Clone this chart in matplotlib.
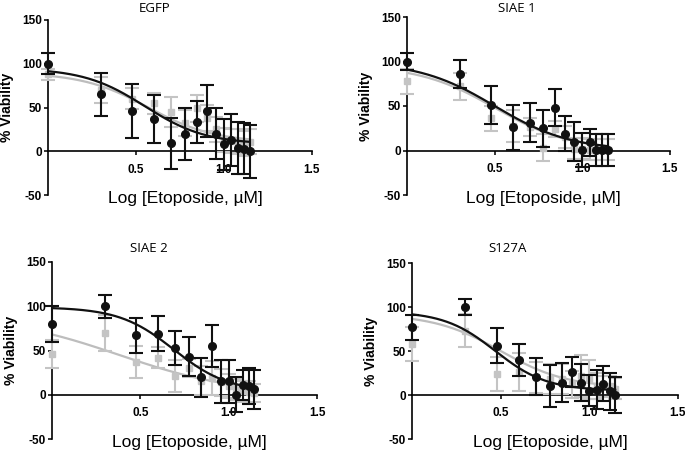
import matplotlib
matplotlib.use("Agg")
import matplotlib.pyplot as plt
import numpy as np

plt.rcParams["font.family"] = ["Liberation Sans", "DejaVu Sans"]

# log10 of etoposide concentration (1..14 uM)
log_conc = [0.0, 0.301, 0.477, 0.602, 0.699, 0.778, 0.845, 0.903, 0.954, 1.0, 1.041, 1.079, 1.114, 1.146]

titles = ["EGFP", "SIAE 1", "SIAE 2", "S127A"]
x_ticks = [0.5, 1.0, 1.5]
x_tick_labels = ["0.5", "1.0", "1.5"]
y_ticks = [-50, 0, 50, 100, 150]
y_tick_labels = ["-50", "0", "50", "100", "150"]

# black series (mean, sd)
egfp_black = [100, 65, 46, 37, 9, 20, 34, 46, 20, 8, 13, 4, 3, 0]
egfp_black_err = [12, 25, 31, 27, 29, 30, 24, 30, 29, 29, 30, 30, 29, 30]
egfp_grey = [88, 70, 60, 55, 45, 32, 49, 38, 25, 13, 12, 11, 9, 11]
egfp_grey_err = [6, 15, 12, 12, 17, 15, 15, 15, 14, 14, 14, 14, 14, 14]

siae1_black = [100, 86, 51, 26, 31, 25, 48, 19, 10, 1, 9, 1, 1, 1]
siae1_black_err = [9, 16, 21, 25, 22, 21, 21, 20, 22, 19, 15, 18, 18, 18]
siae1_grey = [78, 72, 36, 28, 26, 3, 24, 15, 2, 2, 1, 1, 1, 1]
siae1_grey_err = [14, 15, 14, 18, 10, 15, 9, 12, 12, 12, 12, 12, 12, 12]

siae2_black = [80, 100, 67, 69, 53, 43, 20, 55, 15, 15, 0, 11, 10, 6]
siae2_black_err = [20, 13, 20, 20, 19, 22, 22, 24, 24, 24, 20, 17, 20, 22]
siae2_grey = [46, 70, 37, 42, 21, 30, 16, 19, 14, 10, 6, 4, 3, 2]
siae2_grey_err = [16, 20, 18, 12, 18, 10, 16, 19, 15, 14, 12, 12, 12, 10]

s127a_black = [77, 100, 56, 40, 21, 10, 14, 26, 14, 5, 6, 13, 4, 0]
s127a_black_err = [14, 9, 20, 18, 21, 24, 22, 17, 21, 18, 22, 20, 21, 20]
s127a_grey = [58, 73, 24, 26, 20, 18, 18, 12, 22, 18, 10, 10, 10, 7]
s127a_grey_err = [19, 19, 19, 22, 18, 17, 17, 15, 24, 22, 15, 12, 12, 12]

# fitted dose-response parameters: top, bottom, logIC50, hill slope
egfp_black_fit = [95, 8, 0.55, 2.5]
egfp_grey_fit = [90, 10, 0.57, 2.3]
siae1_black_fit = [100, 0, 0.50, 2.0]
siae1_grey_fit = [96, 0, 0.50, 2.0]
siae2_black_fit = [99, 3, 0.69, 2.8]
siae2_grey_fit = [90, 0, 0.38, 1.3]
s127a_black_fit = [95, 5, 0.47, 3.0]
s127a_grey_fit = [92, 8, 0.50, 2.3]

panels = [
    (egfp_black, egfp_black_err, egfp_grey, egfp_grey_err, egfp_black_fit, egfp_grey_fit),
    (siae1_black, siae1_black_err, siae1_grey, siae1_grey_err, siae1_black_fit, siae1_grey_fit),
    (siae2_black, siae2_black_err, siae2_grey, siae2_grey_err, siae2_black_fit, siae2_grey_fit),
    (s127a_black, s127a_black_err, s127a_grey, s127a_grey_err, s127a_black_fit, s127a_grey_fit),
]

# axes rectangles in pixels: x0, x1, ytop, ybottom
W, H = 685, 459
rects_px = [(48, 312, 20, 195), (407, 670, 17, 195), (52, 317, 262, 439), (412, 678, 263, 439)]
title_px = [(155, 8), (517, 8), (149, 248), (508, 248)]


def fourpl(x, p):
    top, bottom, c, h = p
    return bottom + (top - bottom) / (1 + 10 ** ((x - c) * h))


fig = plt.figure(figsize=(W / 100, H / 100), dpi=100)
BLACK = "#111111"
GREY = "#c4c4c4"
GREY_LINE = "#bdbdbd"

for i, (rect, (yb, ybe, yg, yge, fb, fg)) in enumerate(zip(rects_px, panels)):
    x0, x1, yt, ybot = rect
    ax = fig.add_axes([x0 / W, 1 - ybot / H, (x1 - x0) / W, (ybot - yt) / H])
    ax.set_xlim(0, 1.5)
    ax.set_ylim(-50, 150)
    xs = np.linspace(0, max(log_conc), 200)
    ax.plot(xs, fourpl(xs, fg), color=GREY_LINE, lw=1.6, zorder=2)
    eg = ax.errorbar(log_conc, yg, yerr=yge, fmt="s", color=GREY, ms=5, capsize=5,
                     elinewidth=1.5, capthick=1.5, zorder=3)
    ax.plot(xs, fourpl(xs, fb), color=BLACK, lw=1.6, zorder=4)
    eb = ax.errorbar(log_conc, yb, yerr=ybe, fmt="o", color=BLACK, ms=5.5, capsize=5,
                     elinewidth=1.5, capthick=1.5, zorder=5)
    for cont in (eg, eb):
        for art in cont.get_children():
            art.set_clip_on(False)

    for s in ["top", "right"]:
        ax.spines[s].set_visible(False)
    ax.spines["left"].set_position(("data", 0))
    ax.spines["bottom"].set_position(("data", 0))
    ax.spines["left"].set_linewidth(1.2)
    ax.spines["bottom"].set_linewidth(1.2)
    ax.set_xticks(x_ticks)
    ax.set_xticklabels(x_tick_labels, fontweight="bold", fontsize=8.5)
    ax.set_yticks(y_ticks)
    ax.set_yticklabels(y_tick_labels, fontweight="bold", fontsize=8.5)
    ax.tick_params(axis="both", direction="out", length=3, width=1.2, color=BLACK, pad=1.5)
    ax.tick_params(axis="x", pad=6)
    ax.patch.set_visible(False)

    # y label
    ax.text(-41 / (x1 - x0) * 1.5, 50, "% Viability", rotation=90, ha="center", va="center",
            fontweight="bold", fontsize=10, transform=ax.transData)
    # x label
    fig.text(((x0 + x1) / 2 + 5) / W, 1 - (ybot + 4) / H, "Log [Etoposide, \u00b5M]",
             ha="center", va="center", fontsize=12.5)
    tx, ty = title_px[i]
    fig.text(tx / W, 1 - ty / H, titles[i], ha="center", va="center",
             fontfamily="Open Sans", fontsize=9.5)

fig.savefig("out.png", dpi=100)
